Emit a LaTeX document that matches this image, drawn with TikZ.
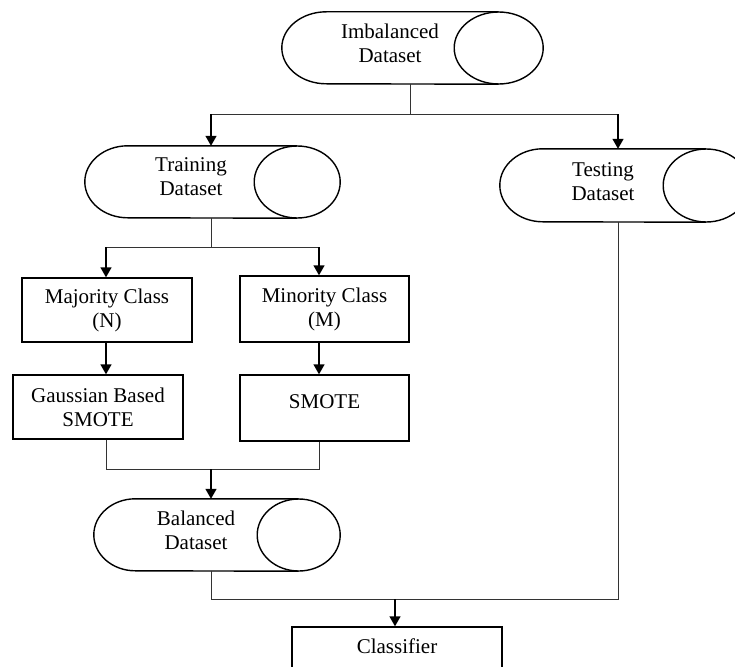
\documentclass[tikz,border=0pt]{standalone}
\usepackage{fontspec}
\setmainfont{Liberation Serif}
\usetikzlibrary{arrows.meta,calc}
\newcommand{\drawcyl}[3]{%
  \draw[shp] ([xshift=-#2]#1.north east) -- ([xshift=#2]#1.north west)
    arc[start angle=90,end angle=270,x radius=#2,y radius=#3]
    -- ([xshift=-#2]#1.south east);
  \draw[shp] ([xshift=-#2]#1.east) ellipse[x radius=#2,y radius=#3];
}
\begin{document}
\begin{tikzpicture}[x=1pt,y=-1pt,
  shp/.style={draw=black,line width=1.4pt},
  conn/.style={draw=black!80,line width=0.9pt},
  arr/.style={draw=black,line width=1.4pt,-{Triangle[length=10pt,width=11pt]}},
  txt/.style={font=\fontsize{21}{24}\selectfont,align=center,inner sep=0pt},
  ghost/.style={rectangle,inner sep=0pt,minimum width=#1},
  boxn/.style={shp,rectangle,inner sep=0pt,font=\fontsize{21}{24}\selectfont,align=center}]
\useasboundingbox (0,0) rectangle (735,666);
\clip (0,0) rectangle (735,666);

% cylinders (storage shapes)
\node[ghost=261pt,minimum height=72pt] (imb) at (412.5,48) {};
\node[ghost=255pt,minimum height=72pt] (trn) at (212.5,182) {};
\node[ghost=249pt,minimum height=73pt] (tst) at (624.5,185.5) {};
\node[ghost=246pt,minimum height=72pt] (bal) at (217,535) {};
\drawcyl{imb}{44.5pt}{36pt}
\drawcyl{trn}{43pt}{36pt}
\drawcyl{tst}{43pt}{36.5pt}
\drawcyl{bal}{41.5pt}{36pt}
\node[txt] (imbt) at (390,43.5) {Imbalanced\\Dataset};
\node[txt] (trnt) at (191,176.5) {Training\\Dataset};
\node[txt] (tstt) at (603,181.5) {Testing\\Dataset};
\node[txt] (balt) at (196,530) {Balanced\\Dataset};

% boxes
\node[boxn,minimum width=170pt,minimum height=64pt] (maj) at (107,310) {Majority Class\\(N)};
\node[boxn,minimum width=169pt,minimum height=66pt] (min) at (324.5,309) {Minority Class\\(M)};
\node[boxn,minimum width=170pt,minimum height=64pt] (gau) at (98,407) {Gaussian Based\\SMOTE};
\node[boxn,minimum width=169pt,minimum height=66pt] (smo) at (324.5,408) {};
\node[txt] (smot) at (324.5,402) {SMOTE};
\node[boxn,minimum width=210pt,minimum height=70pt] (cls) at (397,662) {};
\node[txt] (clst) at (397,646) {Classifier};

% connectors
\coordinate (j1) at (410,114);
\coordinate (a1) at (211,114);
\coordinate (a2) at (618,114);
\draw[conn] (imb.south -| j1) -- (j1);
\draw[conn] (a1) -- (a2);
\draw[arr] (a1) -- (a1 |- trn.north);
\draw[arr] (a2) -- (a2 |- tst.north);

\coordinate (j2) at (211,247);
\coordinate (b1) at (106,247);
\coordinate (b2) at (319,247);
\draw[conn] (trn.south -| j2) -- (j2);
\draw[conn] (b1) -- (b2);
\draw[arr] (b1) -- (b1 |- maj.north);
\draw[arr] (b2) -- (b2 |- min.north);
\draw[arr] (maj.south -| b1) -- (b1 |- gau.north);
\draw[arr] (min.south -| b2) -- (b2 |- smo.north);

\coordinate (c1) at (106,469);
\coordinate (c2) at (319,469);
\coordinate (j3) at (211,469);
\draw[conn] (gau.south -| c1) -- (c1) -- (c2) -- (smo.south -| c2);
\draw[arr] (j3) -- (j3 |- bal.north);

\coordinate (d1) at (211,599);
\coordinate (d2) at (618,599);
\coordinate (j4) at (395,599);
\draw[conn] (bal.south -| d1) -- (d1) -- (d2) -- (tst.south -| d2);
\draw[arr] (j4) -- (j4 |- cls.north);
\end{tikzpicture}
\end{document}
